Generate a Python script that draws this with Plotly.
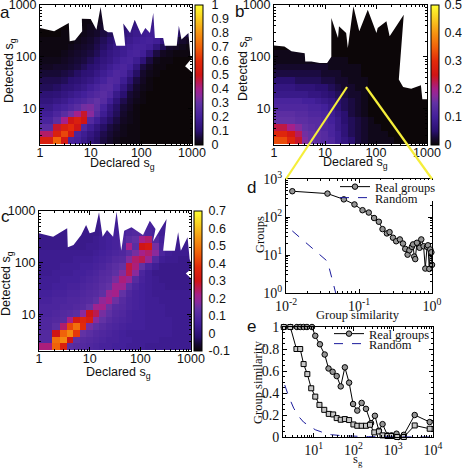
import plotly.graph_objects as go
import math

W, H = 462, 468

# ---------- shared bins ----------
x_edges = [1, 1.8, 2.6, 3.5, 4.7, 6.3, 8.5, 11.5, 15.5, 21, 28, 38, 51, 69, 93, 125, 170, 230, 310, 420, 560, 760, 1000]
y_edges = [2, 2.8, 3.7, 5, 6.7, 9, 12, 16, 22, 30, 40, 54, 73, 98, 132, 178, 240, 324, 437, 590, 1000]

# ---------- heatmap values x100, top row first ----------
z_a = [
 [0,0,0,0,0,1,1,2,3,4,6,8,10,12,13,15,16,18,18,16,14,12],
 [0,0,0,0,0,1,1,2,3,4,6,8,10,12,13,15,16,18,18,16,14,12],
 [0,0,0,0,1,1,2,3,4,6,8,10,12,14,16,17,18,18,17,14,12,10],
 [0,0,1,1,1,2,3,4,6,8,10,13,15,17,18,19,19,18,14,10,8,6],
 [1,1,1,1,2,3,4,6,8,10,13,15,17,19,20,21,19,14,10,6,4,3],
 [1,1,1,2,3,4,5,7,9,12,15,17,19,21,21,19,13,8,4,3,2,1],
 [1,1,2,3,4,5,6,8,11,14,16,18,21,22,19,12,6,3,2,1,1,1],
 [2,2,3,4,5,6,8,10,13,15,18,21,22,18,12,6,2,1,1,0,0,0],
 [3,4,4,5,6,8,10,12,15,18,21,23,20,13,6,3,1,1,0,0,0,0],
 [5,5,6,7,9,11,12,15,18,21,24,22,16,9,4,2,1,0,0,0,0,0],
 [7,7,8,10,11,13,15,18,21,25,24,18,11,6,3,1,0,0,0,0,0,0],
 [8,9,11,12,14,16,19,22,25,26,21,14,8,4,2,1,0,0,0,0,0,0],
 [11,12,14,16,18,20,23,25,27,24,16,10,5,3,1,0,0,0,0,0,0,0],
 [13,15,17,20,22,24,27,30,26,19,12,7,4,2,1,0,0,0,0,0,0,0],
 [16,19,21,24,27,32,33,29,21,14,9,5,3,1,0,0,0,0,0,0,0,0],
 [19,23,27,32,40,48,35,26,18,12,8,4,2,1,0,0,0,0,0,0,0,0],
 [22,28,40,50,55,50,25,19,13,9,6,3,2,1,0,0,0,0,0,0,0,0],
 [27,48,55,60,50,24,18,13,9,6,4,2,1,1,0,0,0,0,0,0,0,0],
 [43,55,65,52,22,18,14,10,7,5,3,2,1,1,0,0,0,0,0,0,0,0],
 [55,70,52,22,20,16,12,9,6,4,2,1,1,1,0,0,0,0,0,0,0,0],
]

z_b = [
 [0,0,0,0,0,0,0,0,0,0,0,0,0,0,0,0,0,0,0,0,0,0],
 [0,0,0,0,0,0,0,0,0,0,0,0,0,0,0,0,0,0,0,0,0,0],
 [0,0,0,0,0,0,0,0,0,0,0,0,0,0,0,0,0,0,0,0,0,0],
 [0,0,0,0,0,0,0,0,0,0,0,0,0,0,0,0,0,0,0,0,0,0],
 [0,0,0,0,0,0,0,0,0,0,0,0,0,0,0,0,0,0,0,0,0,0],
 [0,0,0,0,0,0,0,0,0,0,0,0,0,0,0,0,0,0,0,0,0,0],
 [1,1,1,1,1,1,0,0,0,0,0,0,0,0,0,0,0,0,0,0,0,0],
 [1,1,1,1,1,1,1,1,1,1,0,0,0,0,0,0,0,0,0,0,0,0],
 [2,2,2,2,2,2,2,1,1,1,1,1,0,0,0,0,0,0,0,0,0,0],
 [3,3,3,3,3,3,2,2,2,1,1,1,0,0,0,0,0,0,0,0,0,0],
 [5,5,4,4,4,4,3,3,2,2,1,1,1,0,0,0,0,0,0,0,0,0],
 [7,7,6,6,6,5,5,4,3,2,2,1,1,0,0,0,0,0,0,0,0,0],
 [8,8,8,8,7,7,6,5,4,3,2,2,1,0,0,0,0,0,0,0,0,0],
 [11,11,11,10,10,9,8,7,5,4,3,2,1,0,0,0,0,0,0,0,0,0],
 [12,12,12,12,11,11,10,8,6,4,3,2,1,0,0,0,0,0,0,0,0,0],
 [14,14,13,13,12,12,11,9,7,5,3,2,1,0,0,0,0,0,0,0,0,0],
 [15,15,14,14,13,13,12,10,8,5,4,3,2,1,0,0,0,0,0,0,0,0],
 [23,20,17,15,14,13,12,11,8,6,4,3,2,1,1,0,0,0,0,0,0,0],
 [29,26,22,16,15,14,13,11,9,6,4,3,2,1,1,1,0,0,0,0,0,0],
 [33,29,24,17,15,14,13,12,9,7,5,3,2,1,1,1,1,0,0,0,0,0],
]

z_c = [
 [3,3,3,3,3,3,3,3,4,4,5,5,6,6,7,6,5,5,4,4,4,4],
 [3,3,3,3,3,3,3,3,4,4,5,6,7,7,8,7,6,5,4,4,4,4],
 [3,3,3,3,3,3,3,3,4,5,6,7,9,10,10,8,7,5,4,4,4,4],
 [3,3,3,3,3,3,3,4,5,6,7,9,12,14,22,24,10,6,5,4,4,4],
 [3,3,3,3,3,3,4,4,5,6,7,8,22,12,30,32,16,7,5,4,4,4],
 [4,4,4,4,4,4,4,5,6,7,8,9,12,16,22,24,18,8,5,4,4,4],
 [4,4,4,4,5,5,5,6,7,8,10,11,17,24,26,20,10,5,4,4,3,3],
 [4,4,5,5,5,6,6,7,8,10,12,14,27,23,14,8,5,3,3,3,3,3],
 [4,5,5,5,6,6,7,8,10,11,13,17,26,18,8,5,3,3,3,3,3,3],
 [5,5,6,6,6,7,8,9,11,12,16,23,20,11,7,5,4,3,3,3,3,3],
 [5,6,6,7,7,8,9,10,12,14,21,21,12,8,6,5,4,4,3,3,3,3],
 [6,7,7,8,8,9,10,11,13,20,22,14,9,7,6,5,4,4,4,4,4,4],
 [7,8,8,9,9,10,11,13,19,22,15,11,8,7,6,5,5,4,4,4,4,4],
 [8,8,9,9,10,11,14,21,22,15,11,10,8,7,6,5,5,5,4,4,4,4],
 [8,9,10,11,12,18,30,26,16,13,10,9,7,6,6,5,5,5,4,4,4,4],
 [9,10,11,22,32,36,33,18,14,11,9,8,7,6,6,5,5,5,5,4,4,4],
 [9,12,24,42,48,38,16,13,11,9,8,7,6,6,6,5,5,5,5,4,4,4],
 [10,30,46,52,40,14,12,10,9,8,7,6,5,5,5,5,5,5,5,4,4,4],
 [10,48,52,30,13,11,10,9,8,7,7,6,6,5,5,5,5,4,4,4,4,4],
 [23,46,34,12,11,10,9,8,7,7,6,6,5,5,5,4,4,4,4,4,4,4],
]

# ---------- upper outline of the occupied region (declared, detected) ----------
edge_a_x = [1, 1.9, 3.7, 3.85, 4.9, 6.8, 6.7, 10, 13, 15.7, 18.3, 22, 27, 32, 48, 44, 60, 74, 100, 120, 148, 172, 185, 270, 290, 500, 550, 620, 850, 930, 1000]
edge_a_y = [359, 309, 447, 198, 207, 309, 543, 536, 333, 915, 333, 296, 296, 163, 163, 436, 287, 520, 267, 359, 287, 700, 230, 230, 163, 163, 398, 214, 287, 100, 100]
notch_x = [1000, 730, 1000]
notch_y = [94, 65, 50]

edge_b_x = [1, 1.6, 2.2, 4, 4.1, 5.4, 7.9, 11, 13.3, 13.3, 18, 18.8, 26, 28, 36, 47, 69, 102, 108, 160, 185, 350, 280, 340, 490, 760, 810, 1000]
edge_b_y = [165, 158, 127, 117, 81, 81, 75, 75, 100, 560, 230, 386, 287, 147, 942, 309, 810, 287, 359, 483, 247, 650, 36, 26, 24, 28, 15, 15]

edge_c_x = [1, 1.9, 3.6, 3.7, 4.8, 6.8, 8.5, 10, 12.6, 15.3, 18, 22, 29, 34, 42, 48, 67, 113, 154, 199, 178, 330, 282, 480, 558, 630, 855, 940, 1000]
edge_c_y = [370, 318, 462, 198, 219, 343, 536, 370, 398, 942, 318, 428, 318, 970, 170, 416, 484, 343, 650, 447, 258, 700, 170, 170, 388, 170, 310, 118, 100]
notch_c_x = [1000, 790, 1000]
notch_c_y = [75, 62, 50]

# ---------- panel d ----------
d_x = [.0122, .037, .062, .0867, .1117, .136, .161, .187, .21, .241, .262, .292, .323, .363, .40, .43, .463, .49, .53, .55, .57, .589, .622, .676, .713, .767, .81, .855, .88, .918, .948, .98, 1]
d_y = [477, 413, 291, 214, 151, 131, 94, 75, 48, 37, 40, 28.5, 23, 25.7, 20, 14.5, 10.2, 13.3, 16.4, 19, 9.1, 7.8, 21, 15.5, 25.7, 17, 4.4, 16.4, 18, 4.3, 14, 11.8, 5.5]
d_rand_x = [.0122, .037, .048]
d_rand_y = [43, 6.8, 1]

# ---------- panel e ----------
e_c_x = [1.78, 2.6, 3.8, 4.6, 5.6, 6.8, 9.1, 11, 14.4, 19, 23.7, 30, 38, 48, 61, 78, 98, 125, 161, 207, 277, 347, 437, 540, 721, 908, 1211, 1330, 1849, 3467, 8260]
e_c_y = [1, 1, 1, 1, 1, 1, 1, .92, .843, .75, .623, .593, .554, .46, .633, .494, .30, .24, .31, .256, .126, .193, .057, .117, .015, .015, .03, 0, .02, .2, .136]
e_s_x = [1.78, 2.6, 3.7, 4.6, 5.6, 6.95, 8.7, 11, 14, 18.5, 24, 31, 38, 48, 61, 78, 100, 125, 161, 207, 261, 335, 437, 540, 721, 908, 1260, 1849, 3467, 8260]
e_s_y = [1, 1, .80, .80, .663, .572, .443, .367, .292, .247, .21, .205, .172, .157, .163, .154, .114, .102, .102, .102, .111, .042, .05, .015, .009, .009, 0, 0, .105, .075]
e_r_x = [1.88, 2.37, 3.16, 4.2, 5.6, 7.5, 11, 17.8, 28, 51, 100, 237, 1100, 10000]
e_r_y = [.473, .367, .262, .187, .135, .102, .066, .039, .021, .012, .006, .003, .001, 0]

cscale = [[0, '#0c0608'], [.05, '#170a35'], [.1, '#2a1070'], [.2, '#43209a'], [.3, '#6232a4'],
          [.35, '#8a2a9c'], [.4, '#a5208a'], [.45, '#bb1a50'], [.5, '#d01515'], [.6, '#e22a0a'],
          [.7, '#f0620a'], [.8, '#f59412'], [.9, '#f9cc20'], [1, '#ffff30']]

SANS = 'Liberation Sans'
SERIF = 'Liberation Serif'
def fx(p): return p / W
def fy(p): return 1 - p / H
def dom_x(a, b): return [fx(a), fx(b)]
def dom_y(top, bot): return [fy(bot), fy(top)]
L10 = math.log10

fig = go.Figure()

def heat(z, k, zmin, zmax, ticks, cb_left, top, bot, gap):
    fig.add_trace(go.Heatmap(
        z=[[v / 100 for v in row] for row in z[::-1]], x=x_edges, y=y_edges,
        xaxis=f'x{k}', yaxis=f'y{k}', colorscale=cscale, zmin=zmin, zmax=zmax, hoverinfo='skip',
        colorbar=dict(x=fx(cb_left), xanchor='left', xpad=0, ypad=0, thickness=8, thicknessmode='pixels',
                      len=(bot - top) / H, lenmode='fraction', y=fy(top), yanchor='top',
                      tickvals=ticks, ticktext=[f'{t:g}' for t in ticks], ticks='outside', ticklen=gap,
                      ticklabeloverflow='allow',
                      tickcolor='rgba(0,0,0,0)', outlinewidth=1, outlinecolor='black',
                      tickfont=dict(family=SANS, size=12.5, color='#111'))))

def cover(xs, ys, k):
    fig.add_trace(go.Scatter(x=xs + [1000, 1], y=ys + [1000, 1000], xaxis=f'x{k}', yaxis=f'y{k}', mode='lines',
                             fill='toself', fillcolor='white', line=dict(width=0), showlegend=False, hoverinfo='skip'))

def notch(xs, ys, k):
    fig.add_trace(go.Scatter(x=xs, y=ys, xaxis=f'x{k}', yaxis=f'y{k}', mode='lines',
                             fill='toself', fillcolor='white', line=dict(width=0), showlegend=False, hoverinfo='skip'))

heat(z_a, '', 0, 1, [0, .1, .2, .3, .4, .5, .6, .7, .8, .9, 1], 195, 5, 145, 6)
cover(edge_a_x, edge_a_y, ''); notch(notch_x, notch_y, '')
heat(z_b, 2, 0, .5, [0, .1, .2, .3, .4, .5], 431, 5, 145, 3)
cover(edge_b_x, edge_b_y, 2)
heat(z_c, 3, -.1, .7, [-.1, 0, .1, .2, .3, .4, .5, .6, .7], 194, 211, 351, 4)
cover(edge_c_x, edge_c_y, 3); notch(notch_c_x, notch_c_y, 3)

mk = dict(symbol='circle', size=5.5, color='#959595', line=dict(color='black', width=1))
fig.add_trace(go.Scatter(x=d_x, y=d_y, xaxis='x4', yaxis='y4', mode='lines+markers', name='Real groups', legend='legend',
                         line=dict(color='black', width=1), marker=mk, cliponaxis=False))
fig.add_trace(go.Scatter(x=d_rand_x, y=d_rand_y, xaxis='x4', yaxis='y4', mode='lines', name='Random', legend='legend2',
                         line=dict(color='#1a1a9c', width=1, dash='dash')))
fig.add_trace(go.Scatter(x=e_c_x, y=e_c_y, xaxis='x5', yaxis='y5', mode='lines+markers', name='Real groups', legend='legend3',
                         line=dict(color='black', width=1), marker=mk, cliponaxis=False))
fig.add_trace(go.Scatter(x=e_s_x, y=e_s_y, xaxis='x5', yaxis='y5', mode='lines+markers', showlegend=False,
                         line=dict(color='black', width=1), cliponaxis=False,
                         marker=dict(symbol='square', size=5, color='#c8c8c8', line=dict(color='black', width=1))))
fig.add_trace(go.Scatter(x=e_r_x, y=e_r_y, xaxis='x5', yaxis='y5', mode='lines', name='Random', legend='legend4',
                         line=dict(color='#1a1a9c', width=1, dash='dash')))

decade_text = ['1', '10', '100', '1000']
def heat_axes(k, left, right, top, bot):
    fnt = dict(family=SANS, size=12.5, color='#111')
    common = dict(type='log', showline=True, linecolor='black', linewidth=1, mirror='ticks', ticks='inside', ticklen=4,
                  showgrid=False, zeroline=False, tickfont=fnt, tickcolor='black', ticklabeloverflow='allow',
                  minor=dict(ticks='inside', ticklen=2, dtick='D1', tickcolor='black', showgrid=False))
    ks = '' if k == '' else str(k)
    fig.layout[f'xaxis{ks}'] = dict(common, domain=dom_x(left, right), range=[0, 3], anchor=f'y{ks}',
                                    tickvals=[1, 10, 100, 1000], ticktext=decade_text, ticklabelstandoff=-4)
    fig.layout[f'yaxis{ks}'] = dict(common, domain=dom_y(top, bot), range=[L10(1.95), 3], anchor=f'x{ks}',
                                    tickvals=[10, 100, 1000], ticktext=decade_text[1:])

heat_axes('', 40, 192, 5, 145)
heat_axes(2, 274, 427, 5, 145)
heat_axes(3, 39, 191, 211, 351)

sf = dict(family=SERIF, size=14, color='#111')
line_ax = dict(type='log', showline=True, linecolor='black', linewidth=1, mirror='ticks', ticks='inside', ticklen=4,
               showgrid=False, zeroline=False, tickfont=sf, tickcolor='black', ticklabeloverflow='allow',
               minor=dict(ticks='inside', ticklen=2, dtick='D1', tickcolor='black', showgrid=False))
fig.layout.xaxis4 = dict(line_ax, domain=dom_x(286, 432), range=[-2, 0], anchor='y4',
                         tickvals=[.01, .1, 1], ticktext=['10<sup>-2</sup>', '10<sup>-1</sup>', '10<sup>0</sup>'])
fig.layout.yaxis4 = dict(line_ax, domain=dom_y(179, 293), range=[0, 3], anchor='x4',
                         tickvals=[1, 10, 100, 1000], ticktext=['10<sup>0</sup>', '10<sup>1</sup>', '10<sup>2</sup>', '10<sup>3</sup>'])
fig.layout.xaxis5 = dict(line_ax, domain=dom_x(283, 433), range=[L10(1.7), 4], anchor='y5',
                         tickvals=[10, 100, 1000, 10000], ticktext=['10<sup>1</sup>', '10<sup>2</sup>', '10<sup>3</sup>', '10<sup>4</sup>'])
fig.layout.yaxis5 = dict(showline=True, linecolor='black', linewidth=1, mirror='ticks', ticks='inside', ticklen=4,
                         showgrid=False, zeroline=False, tickfont=sf, tickcolor='black', domain=dom_y(327, 437), range=[0, 1],
                         anchor='x5', tickvals=[0, .2, .4, .6, .8, 1], ticktext=['0', '0.2', '0.4', '0.6', '0.8', '1'],
                         ticklabeloverflow='allow',
                         minor=dict(ticks='inside', ticklen=2, dtick=.05, tickcolor='black', showgrid=False))

YEL = '#f5ee3a'
shapes = [
    dict(type='rect', xref='paper', yref='paper', x0=fx(362), x1=fx(434), y0=fy(201), y1=fy(180),
         line=dict(width=0), fillcolor='white', layer='above'),
    dict(type='rect', xref='x2', yref='y2', x0=L10(27), x1=L10(62), y0=L10(27), y1=L10(54),
         line=dict(color=YEL, width=1.5), fillcolor='rgba(0,0,0,0)', layer='above'),
    dict(type='line', xref='paper', yref='paper', x0=fx(347), y0=fy(87), x1=fx(286), y1=fy(179), line=dict(color=YEL, width=2.2)),
    dict(type='line', xref='paper', yref='paper', x0=fx(366), y0=fy(87), x1=fx(432), y1=fy(179), line=dict(color=YEL, width=2.2)),
]

labels = [('a', 5, 12), ('b', 240, 11), ('c', 5, 216), ('d', 252, 187), ('e', 252, 326)]
annos = [dict(text=t, x=fx(px), y=fy(py), xref='paper', yref='paper', showarrow=False, xanchor='center', yanchor='middle',
              font=dict(family=SANS, size=17, color='#111')) for t, px, py in labels]

titles = [
    ('Declared s<sub>g</sub>', 122, 164, 0, SANS, 12.5), ('Declared s<sub>g</sub>', 355, 163, 0, SANS, 12.5), ('Declared s<sub>g</sub>', 118, 373, 0, SANS, 12.5),
    ('Detected s<sub>g</sub>', 10, 71, -90, SANS, 12.5), ('Detected s<sub>g</sub>', 244, 69, -90, SANS, 12.5), ('Detected s<sub>g</sub>', 7, 284, -90, SANS, 12.5),
    ('Group similarity', 358, 315, 0, SERIF, 12.5), ('Groups', 260, 235, -90, SERIF, 12.5),
    ('Group similarity', 258, 382, -90, SERIF, 12.5), ('s<sub>g</sub>', 358, 460, 0, SERIF, 12.5),
]
annos += [dict(text=t, x=fx(px), y=fy(py), xref='paper', yref='paper', showarrow=False, xanchor='center', yanchor='middle',
               textangle=a, font=dict(family=f, size=s, color='#111')) for t, px, py, a, f, s in titles]

leg = dict(bgcolor='rgba(0,0,0,0)', borderwidth=0, font=dict(family=SERIF, size=12.5, color='#111'), itemwidth=30,
           xanchor='left', yanchor='middle')
fig.update_layout(
    width=W, height=H, margin=dict(l=0, r=0, t=0, b=0, autoexpand=False), paper_bgcolor='white', plot_bgcolor='white',
    shapes=shapes, annotations=annos, showlegend=True,
    legend=dict(leg, x=fx(335), y=fy(187)),
    legend2=dict(leg, x=fx(335), y=fy(198)),
    legend3=dict(leg, x=fx(329), y=fy(334)),
    legend4=dict(leg, x=fx(329), y=fy(344)),
)
fig.write_html('out.html', config={'displayModeBar': False}, post_script="document.body.style.margin='0';")
